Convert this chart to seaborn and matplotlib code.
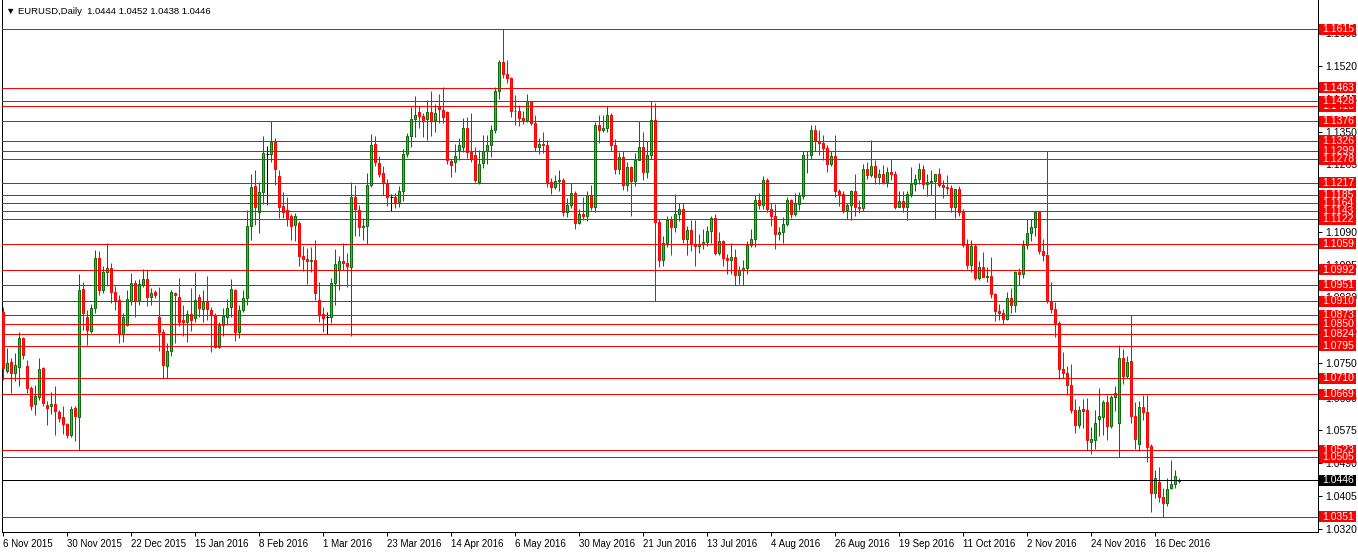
import matplotlib
matplotlib.use("Agg")
import matplotlib.pyplot as plt
import matplotlib.transforms as mtransforms
from matplotlib.patches import Rectangle
import numpy as np
import seaborn as sns

# EURUSD daily candles, 6 Nov 2015 .. 26 Dec 2016
open_ = [
    1.0883, 1.0730, 1.0752, 1.0723, 1.0740, 1.0814, 1.0742, 1.0686, 1.0643, 1.0661,
    1.0736, 1.0641, 1.0637, 1.0643, 1.0623, 1.0610, 1.0592, 1.0563, 1.0633, 1.0611,
    1.0941, 1.0868, 1.0834, 1.0892, 1.1022, 1.0940, 1.0985, 1.0995, 1.0935, 1.0913,
    1.0825, 1.0849, 1.0911, 1.0957, 1.0912, 1.0952, 1.0967, 1.0922, 1.0933, 1.0869,
    1.0830, 1.0743, 1.0780, 1.0931, 1.0920, 1.0860, 1.0857, 1.0876, 1.0866, 1.0920,
    1.0889, 1.0909, 1.0888, 1.0875, 1.0791, 1.0849, 1.0869, 1.0895, 1.0939, 1.0831,
    1.0888, 1.0918, 1.1104, 1.1209, 1.1142, 1.1192, 1.1292, 1.1291, 1.1322, 1.1235,
    1.1157, 1.1147, 1.1130, 1.1108, 1.1112, 1.1028, 1.1020, 1.1013, 1.1017, 1.0914,
    1.0877, 1.0869, 1.0869, 1.0957, 1.0990, 1.1015, 1.1010, 1.0998, 1.1180, 1.1147,
    1.1102, 1.1106, 1.1212, 1.1318, 1.1268, 1.1242, 1.1214, 1.1180, 1.1180, 1.1166,
    1.1196, 1.1292, 1.1339, 1.1382, 1.1400, 1.1391, 1.1382, 1.1400, 1.1379, 1.1415,
    1.1405, 1.1400, 1.1274, 1.1270, 1.1303, 1.1311, 1.1359, 1.1298, 1.1290, 1.1218,
    1.1268, 1.1300, 1.1315, 1.1355, 1.1454, 1.1530, 1.1498, 1.1489, 1.1404, 1.1403,
    1.1385, 1.1380, 1.1428, 1.1372, 1.1310, 1.1318, 1.1315, 1.1220, 1.1205, 1.1222,
    1.1225, 1.1141, 1.1160, 1.1191, 1.1113, 1.1135, 1.1130, 1.1185, 1.1153, 1.1366,
    1.1354, 1.1359, 1.1394, 1.1315, 1.1252, 1.1285, 1.1212, 1.1259, 1.1222, 1.1276,
    1.1311, 1.1245, 1.1290, 1.1380, 1.1115, 1.1018, 1.1061, 1.1121, 1.1103, 1.1135,
    1.1150, 1.1071, 1.1094, 1.1059, 1.1053, 1.1058, 1.1063, 1.1092, 1.1125, 1.1036,
    1.1066, 1.1023, 1.1018, 1.1025, 1.0977, 1.0991, 1.0997, 1.1057, 1.1072, 1.1173,
    1.1159, 1.1223, 1.1150, 1.1130, 1.1084, 1.1090, 1.1111, 1.1173, 1.1135, 1.1161,
    1.1184, 1.1289, 1.1290, 1.1355, 1.1325, 1.1319, 1.1307, 1.1265, 1.1287, 1.1197,
    1.1189, 1.1146, 1.1159, 1.1196, 1.1155, 1.1152, 1.1254, 1.1238, 1.1261, 1.1233,
    1.1239, 1.1218, 1.1245, 1.1241, 1.1155, 1.1170, 1.1153, 1.1188, 1.1213, 1.1226,
    1.1252, 1.1213, 1.1218, 1.1222, 1.1240, 1.1211, 1.1205, 1.1203, 1.1155, 1.1200,
    1.1142, 1.1055, 1.1005, 1.1054, 1.0971, 1.0999, 1.0973, 1.0975, 1.0928, 1.0885,
    1.0880, 1.0863, 1.0919, 1.0900, 1.0985, 1.0980, 1.1055, 1.1087, 1.1102, 1.1140,
    1.1040, 1.1030, 1.0910, 1.0889, 1.0853, 1.0734, 1.0723, 1.0692, 1.0628, 1.0589,
    1.0630, 1.0628, 1.0546, 1.0550, 1.0604, 1.0611, 1.0648, 1.0586, 1.0661, 1.0593,
    1.0762, 1.0716, 1.0755, 1.0612, 1.0540, 1.0635, 1.0623, 1.0535, 1.0412, 1.0440,
    1.0403, 1.0386, 1.0425, 1.0436, 1.0444,
]
high = [
    1.0896, 1.0788, 1.0762, 1.0775, 1.0831, 1.0818, 1.0758, 1.0690, 1.0693, 1.0762,
    1.0739, 1.0652, 1.0674, 1.0690, 1.0628, 1.0638, 1.0595, 1.0637, 1.0638, 1.0981,
    1.0960, 1.0887, 1.0903, 1.1043, 1.1040, 1.1000, 1.1060, 1.1010, 1.0950, 1.0925,
    1.0879, 1.0939, 1.0984, 1.0965, 1.0967, 1.0993, 1.0991, 1.0944, 1.0938, 1.0946,
    1.0838, 1.0801, 1.0939, 1.0935, 1.0970, 1.0901, 1.0888, 1.0944, 1.0987, 1.0929,
    1.0939, 1.0976, 1.0896, 1.0879, 1.0857, 1.0892, 1.0915, 1.0967, 1.0941, 1.0901,
    1.0939, 1.1147, 1.1240, 1.1250, 1.1218, 1.1339, 1.1313, 1.1376, 1.1333, 1.1250,
    1.1194, 1.1180, 1.1136, 1.1138, 1.1117, 1.1053, 1.1047, 1.1050, 1.1069, 1.0961,
    1.0895, 1.0883, 1.0970, 1.1045, 1.1028, 1.1060, 1.1036, 1.1220, 1.1212, 1.1160,
    1.1125, 1.1242, 1.1344, 1.1339, 1.1287, 1.1261, 1.1226, 1.1189, 1.1190, 1.1208,
    1.1304, 1.1346, 1.1413, 1.1441, 1.1415, 1.1399, 1.1432, 1.1454, 1.1422, 1.1448,
    1.1465, 1.1402, 1.1278, 1.1318, 1.1333, 1.1385, 1.1387, 1.1399, 1.1311, 1.1301,
    1.1341, 1.1340, 1.1368, 1.1465, 1.1536, 1.1616, 1.1535, 1.1491, 1.1444, 1.1418,
    1.1402, 1.1446, 1.1430, 1.1393, 1.1332, 1.1349, 1.1327, 1.1230, 1.1238, 1.1250,
    1.1230, 1.1178, 1.1216, 1.1196, 1.1150, 1.1180, 1.1196, 1.1212, 1.1374, 1.1394,
    1.1392, 1.1416, 1.1398, 1.1330, 1.1298, 1.1299, 1.1270, 1.1261, 1.1294, 1.1378,
    1.1348, 1.1326, 1.1428, 1.1424, 1.1124, 1.1078, 1.1130, 1.1130, 1.1188, 1.1164,
    1.1165, 1.1104, 1.1120, 1.1120, 1.1084, 1.1096, 1.1106, 1.1130, 1.1135, 1.1090,
    1.1068, 1.1032, 1.1060, 1.1046, 1.1002, 1.1016, 1.1065, 1.1098, 1.1186, 1.1190,
    1.1234, 1.1230, 1.1164, 1.1162, 1.1102, 1.1128, 1.1180, 1.1174, 1.1190, 1.1193,
    1.1300, 1.1299, 1.1366, 1.1368, 1.1355, 1.1341, 1.1314, 1.1300, 1.1342, 1.1200,
    1.1195, 1.1165, 1.1199, 1.1240, 1.1172, 1.1265, 1.1271, 1.1327, 1.1275, 1.1252,
    1.1262, 1.1257, 1.1280, 1.1248, 1.1195, 1.1196, 1.1195, 1.1257, 1.1241, 1.1268,
    1.1263, 1.1239, 1.1250, 1.1240, 1.1256, 1.1225, 1.1238, 1.1210, 1.1202, 1.1208,
    1.1150, 1.1070, 1.1068, 1.1058, 1.1015, 1.1038, 1.0998, 1.1025, 1.0930, 1.0902,
    1.0890, 1.0935, 1.0943, 1.0988, 1.0995, 1.1068, 1.1124, 1.1123, 1.1143, 1.1145,
    1.1072, 1.1300, 1.0961, 1.0907, 1.0858, 1.0778, 1.0743, 1.0746, 1.0656, 1.0637,
    1.0656, 1.0658, 1.0585, 1.0628, 1.0684, 1.0654, 1.0667, 1.0667, 1.0690, 1.0796,
    1.0785, 1.0768, 1.0874, 1.0649, 1.0652, 1.0667, 1.0667, 1.0540, 1.0472, 1.0481,
    1.0425, 1.0451, 1.0498, 1.0471, 1.0452,
]
low = [
    1.0706, 1.0723, 1.0673, 1.0704, 1.0689, 1.0760, 1.0673, 1.0628, 1.0615, 1.0654,
    1.0638, 1.0589, 1.0618, 1.0563, 1.0598, 1.0566, 1.0556, 1.0559, 1.0548, 1.0523,
    1.0835, 1.0797, 1.0828, 1.0880, 1.0925, 1.0930, 1.0950, 1.0905, 1.0888, 1.0801,
    1.0803, 1.0846, 1.0901, 1.0869, 1.0901, 1.0948, 1.0898, 1.0901, 1.0918, 1.0780,
    1.0711, 1.0711, 1.0768, 1.0801, 1.0846, 1.0819, 1.0803, 1.0834, 1.0855, 1.0869,
    1.0857, 1.0860, 1.0777, 1.0788, 1.0788, 1.0819, 1.0849, 1.0869, 1.0808, 1.0814,
    1.0883, 1.0901, 1.1069, 1.1108, 1.1086, 1.1162, 1.1160, 1.1272, 1.1212, 1.1127,
    1.1125, 1.1104, 1.1069, 1.1065, 1.1002, 1.0989, 1.0955, 1.0987, 1.0912, 1.0857,
    1.0831, 1.0825, 1.0853, 1.0901, 1.0938, 1.0991, 1.0946, 1.0820, 1.1078, 1.1078,
    1.1069, 1.1059, 1.1206, 1.1261, 1.1233, 1.1186, 1.1157, 1.1145, 1.1151, 1.1154,
    1.1169, 1.1284, 1.1311, 1.1335, 1.1359, 1.1335, 1.1328, 1.1339, 1.1350, 1.1373,
    1.1373, 1.1266, 1.1233, 1.1246, 1.1275, 1.1298, 1.1281, 1.1272, 1.1218, 1.1214,
    1.1255, 1.1265, 1.1285, 1.1345, 1.1434, 1.1490, 1.1475, 1.1387, 1.1367, 1.1365,
    1.1369, 1.1374, 1.1368, 1.1300, 1.1292, 1.1294, 1.1206, 1.1187, 1.1201, 1.1197,
    1.1132, 1.1129, 1.1152, 1.1097, 1.1110, 1.1120, 1.1117, 1.1146, 1.1142, 1.1320,
    1.1348, 1.1350, 1.1300, 1.1240, 1.1239, 1.1198, 1.1195, 1.1130, 1.1209, 1.1275,
    1.1225, 1.1230, 1.1280, 1.0910, 1.0999, 1.1000, 1.1050, 1.1030, 1.1090, 1.1119,
    1.1060, 1.1029, 1.1041, 1.1000, 1.1035, 1.1045, 1.1054, 1.1061, 1.1029, 1.1030,
    1.1001, 1.0981, 1.0980, 1.0952, 1.0955, 1.0952, 1.0980, 1.1050, 1.1050, 1.1150,
    1.1149, 1.1141, 1.1106, 1.1045, 1.1068, 1.1060, 1.1105, 1.1125, 1.1131, 1.1146,
    1.1174, 1.1242, 1.1280, 1.1300, 1.1289, 1.1276, 1.1245, 1.1261, 1.1180, 1.1158,
    1.1139, 1.1122, 1.1121, 1.1130, 1.1139, 1.1145, 1.1228, 1.1231, 1.1213, 1.1213,
    1.1215, 1.1207, 1.1225, 1.1150, 1.1155, 1.1141, 1.1120, 1.1180, 1.1197, 1.1213,
    1.1200, 1.1183, 1.1185, 1.1123, 1.1206, 1.1177, 1.1187, 1.1142, 1.1125, 1.1130,
    1.1050, 1.0994, 1.0985, 1.0966, 1.0965, 1.0972, 1.0960, 1.0918, 1.0858, 1.0860,
    1.0851, 1.0860, 1.0880, 1.0881, 1.0953, 1.0970, 1.1046, 1.1065, 1.1079, 1.1032,
    1.1013, 1.0906, 1.0880, 1.0818, 1.0709, 1.0711, 1.0667, 1.0620, 1.0569, 1.0580,
    1.0580, 1.0524, 1.0514, 1.0526, 1.0560, 1.0563, 1.0550, 1.0582, 1.0624, 1.0505,
    1.0695, 1.0710, 1.0595, 1.0526, 1.0522, 1.0602, 1.0494, 1.0364, 1.0399, 1.0390,
    1.0351, 1.0379, 1.0422, 1.0425, 1.0438,
]
close = [
    1.0736, 1.0749, 1.0725, 1.0744, 1.0814, 1.0771, 1.0686, 1.0639, 1.0663, 1.0733,
    1.0647, 1.0634, 1.0644, 1.0624, 1.0608, 1.0592, 1.0563, 1.0630, 1.0612, 1.0939,
    1.0879, 1.0835, 1.0892, 1.1022, 1.0940, 1.0985, 1.0995, 1.0935, 1.0913, 1.0825,
    1.0869, 1.0915, 1.0957, 1.0911, 1.0955, 1.0967, 1.0920, 1.0931, 1.0925, 1.0829,
    1.0745, 1.0780, 1.0933, 1.0925, 1.0857, 1.0857, 1.0876, 1.0862, 1.0912, 1.0892,
    1.0909, 1.0889, 1.0875, 1.0791, 1.0849, 1.0872, 1.0892, 1.0941, 1.0829, 1.0888,
    1.0918, 1.1105, 1.1206, 1.1155, 1.1192, 1.1294, 1.1292, 1.1324, 1.1253, 1.1153,
    1.1142, 1.1127, 1.1105, 1.1131, 1.1028, 1.1020, 1.1013, 1.1017, 1.0931, 1.0875,
    1.0866, 1.0869, 1.0957, 1.1007, 1.1015, 1.1009, 1.1000, 1.1180, 1.1149, 1.1102,
    1.1105, 1.1212, 1.1316, 1.1270, 1.1240, 1.1216, 1.1180, 1.1180, 1.1166, 1.1197,
    1.1292, 1.1339, 1.1382, 1.1393, 1.1389, 1.1379, 1.1400, 1.1376, 1.1398, 1.1408,
    1.1387, 1.1277, 1.1264, 1.1287, 1.1316, 1.1359, 1.1296, 1.1278, 1.1225, 1.1266,
    1.1300, 1.1315, 1.1355, 1.1454, 1.1530, 1.1498, 1.1489, 1.1404, 1.1403, 1.1385,
    1.1380, 1.1428, 1.1372, 1.1310, 1.1318, 1.1315, 1.1220, 1.1205, 1.1222, 1.1225,
    1.1141, 1.1160, 1.1191, 1.1113, 1.1135, 1.1130, 1.1185, 1.1153, 1.1366, 1.1354,
    1.1359, 1.1394, 1.1315, 1.1252, 1.1285, 1.1212, 1.1259, 1.1222, 1.1276, 1.1311,
    1.1245, 1.1290, 1.1380, 1.1115, 1.1018, 1.1061, 1.1121, 1.1103, 1.1135, 1.1150,
    1.1071, 1.1094, 1.1059, 1.1053, 1.1058, 1.1063, 1.1092, 1.1125, 1.1036, 1.1066,
    1.1023, 1.1018, 1.1025, 1.0977, 1.0991, 1.0997, 1.1057, 1.1072, 1.1173, 1.1159,
    1.1223, 1.1150, 1.1130, 1.1084, 1.1090, 1.1111, 1.1173, 1.1135, 1.1161, 1.1184,
    1.1289, 1.1290, 1.1355, 1.1325, 1.1319, 1.1307, 1.1265, 1.1287, 1.1197, 1.1189,
    1.1146, 1.1159, 1.1196, 1.1155, 1.1152, 1.1254, 1.1238, 1.1261, 1.1233, 1.1239,
    1.1218, 1.1245, 1.1241, 1.1155, 1.1170, 1.1153, 1.1188, 1.1213, 1.1226, 1.1252,
    1.1213, 1.1218, 1.1222, 1.1240, 1.1211, 1.1205, 1.1203, 1.1155, 1.1200, 1.1142,
    1.1055, 1.1005, 1.1054, 1.0971, 1.0999, 1.0973, 1.0975, 1.0928, 1.0885, 1.0880,
    1.0863, 1.0919, 1.0900, 1.0985, 1.0980, 1.1055, 1.1087, 1.1102, 1.1140, 1.1040,
    1.1030, 1.0910, 1.0889, 1.0853, 1.0734, 1.0723, 1.0692, 1.0628, 1.0589, 1.0628,
    1.0626, 1.0550, 1.0552, 1.0593, 1.0612, 1.0648, 1.0586, 1.0661, 1.0671, 1.0762,
    1.0716, 1.0752, 1.0612, 1.0552, 1.0635, 1.0623, 1.0533, 1.0412, 1.0451, 1.0402,
    1.0386, 1.0422, 1.0436, 1.0457, 1.0446,
]

date_labels = [
    "6 Nov 2015", "30 Nov 2015", "22 Dec 2015", "15 Jan 2016", "8 Feb 2016",
    "1 Mar 2016", "23 Mar 2016", "14 Apr 2016", "6 May 2016", "30 May 2016",
    "21 Jun 2016", "13 Jul 2016", "4 Aug 2016", "26 Aug 2016", "19 Sep 2016",
    "11 Oct 2016", "2 Nov 2016", "24 Nov 2016", "16 Dec 2016",
]
BARS_PER_LABEL = 16

price_ticks = [1.1605, 1.1520, 1.1435, 1.1350, 1.1265, 1.1180, 1.1090, 1.1005,
               1.0920, 1.0835, 1.0750, 1.0660, 1.0575, 1.0490, 1.0405, 1.0320]

# horizontal levels, in the order the labels get stacked
levels = [1.1615, 1.1463, 1.1415, 1.1428, 1.1376, 1.1326, 1.1299, 1.1278,
          1.1217, 1.1185, 1.1164, 1.1143, 1.1122, 1.1059, 1.0992, 1.0951,
          1.0910, 1.0873, 1.0850, 1.0824, 1.0795, 1.0710, 1.0669, 1.0523,
          1.0505, 1.0351]
last_price = 1.0446
title = "EURUSD,Daily  1.0444 1.0452 1.0438 1.0446"

BULL_FILL, BULL_EDGE = "#22cc22", "#0a6e0a"
BEAR_FILL, BEAR_EDGE = "#ff1744", "#ff0000"

W, H = 1358, 554
PX = 0.0002593          # price units per screen pixel
Y_TOP = 1.1691          # price at the top edge of the chart
LW = 0.72               # one screen pixel

sns.set_theme(style="white")
plt.rcParams["font.family"] = ["Liberation Sans", "DejaVu Sans"]

fig = plt.figure(figsize=(W / 100, H / 100), dpi=100, facecolor="white")
ax = fig.add_axes([2.3 / W, 22 / H, 1315.7 / W, 532 / H])
ax.set_facecolor("white")

o, h, l, c = (np.array(v) for v in (open_, high, low, close))
x = np.arange(len(o))
up, dn, flat = c > o, c < o, c == o

ax.vlines(x[up], l[up], h[up], color=BULL_EDGE, lw=LW, zorder=3)
ax.bar(x[up], c[up] - o[up], bottom=o[up], width=0.6, color=BULL_FILL,
       edgecolor=BULL_EDGE, linewidth=LW, zorder=4)
ax.vlines(x[dn], l[dn], h[dn], color=BEAR_EDGE, lw=LW, zorder=3)
ax.bar(x[dn], o[dn] - c[dn], bottom=c[dn], width=0.6, color=BEAR_FILL,
       edgecolor=BEAR_EDGE, linewidth=LW, zorder=4)
ax.vlines(x[flat], l[flat], h[flat], color="black", lw=LW, zorder=3)
ax.hlines(o[flat], x[flat] - 0.4, x[flat] + 0.4, color="black", lw=LW, zorder=4)

for lvl in levels:
    ax.axhline(lvl, color="#ff0000", lw=LW, zorder=5)
ax.axhline(last_price, color="black", lw=LW, zorder=5)

# price labels in the right margin
trans = mtransforms.blended_transform_factory(fig.transFigure, ax.transData)
boxes = [(lvl, "#ff0000") for lvl in levels] + [(last_price, "black")]
for i, (lvl, col) in enumerate(boxes):
    ax.add_patch(Rectangle((1319 / W, lvl - 5.5 * PX), 37 / W, 11 * PX,
                           transform=trans, facecolor=col, edgecolor="none",
                           clip_on=False, zorder=10 + 2 * i))
    ax.text(1322 / W, lvl, f"{lvl:.4f}", transform=trans, color="white",
            fontsize=7.5, ha="left", va="center", clip_on=False, zorder=11 + 2 * i)

ax.yaxis.tick_right()
ax.set_yticks(price_ticks)
ax.set_yticklabels([f"{v:.4f}" for v in price_ticks])
ax.tick_params(axis="y", right=True, left=False, length=3, width=LW, pad=2,
               labelsize=7.5, colors="black", direction="out")

ax.set_xticks(np.arange(len(date_labels)) * BARS_PER_LABEL)
ax.set_xticklabels(date_labels, ha="left")
ax.tick_params(axis="x", bottom=True, length=3, width=LW, pad=2,
               labelsize=7, colors="black", direction="out")

for side in ("left", "right", "bottom"):
    ax.spines[side].set_color("black")
    ax.spines[side].set_linewidth(LW)
ax.spines["top"].set_visible(False)
ax.grid(False)

ax.set_xlim(-0.25, 328.68)
ax.set_ylim(Y_TOP - 532 * PX, Y_TOP)

fig.text(6 / W, 1 - 11 / H, "\u25bc " + title, fontsize=6.8, va="center", color="black")

fig.savefig("out.png", dpi=100)
